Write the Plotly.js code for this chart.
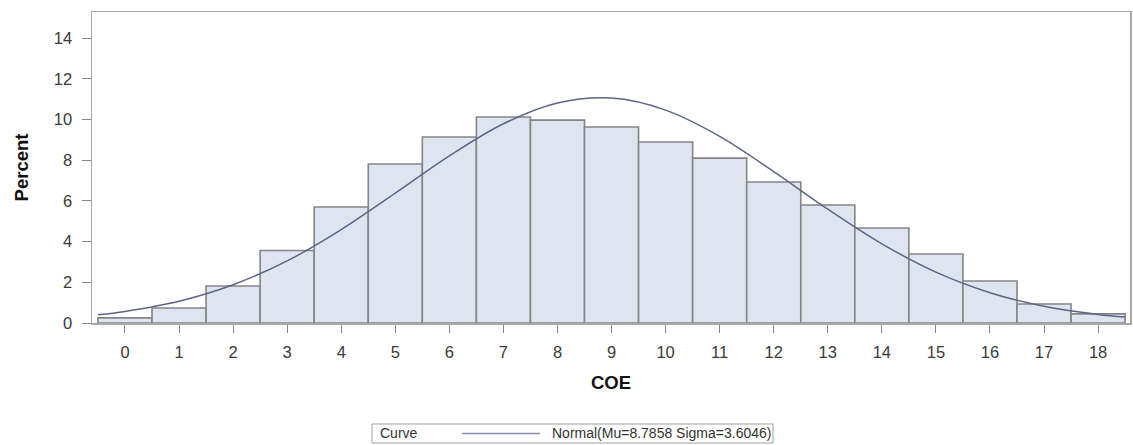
<!DOCTYPE html>
<html>
<head>
<meta charset="utf-8">
<script src="https://cdn.plot.ly/plotly-3.0.1.min.js"></script>
<style>html,body{margin:0;padding:0;background:#fff;}#chart{width:1133px;height:445px;}</style>
</head>
<body>
<div id="chart"></div>
<script>
// Histogram bins (COE) and percent heights
const coeBins = [0,1,2,3,4,5,6,7,8,9,10,11,12,13,14,15,16,17,18];
const percentValues = [0.25,0.74,1.82,3.56,5.70,7.81,9.14,10.12,9.97,9.63,8.89,8.10,6.93,5.80,4.67,3.39,2.06,0.93,0.45];

// Fitted normal curve
const curveX = [-0.5,0,1,2,3,4,5,6,7,8,9,10,11,12,13,14,15,16,17,18,18.5];
const curveY = [0.40,0.57,1.07,1.88,3.05,4.59,6.38,8.21,9.79,10.81,11.05,10.46,9.17,7.44,5.59,3.89,2.50,1.49,0.82,0.42,0.29];

const yTicks = [0,2,4,6,8,10,12,14];
const legendHeader = "Curve";
const legendLabel = "Normal(Mu=8.7858 Sigma=3.6046)";

const W = 1133, H = 445;
const M = {l:92, r:3, t:12, b:122};
const pw = W - M.l - M.r, ph = H - M.t - M.b;
const px = x => (x - M.l) / pw;
const py = y => (H - M.b - y) / ph;

const font = "Liberation Sans, Arial, sans-serif";

const traces = [
  {
    type: 'bar',
    x: coeBins,
    y: percentValues,
    width: 1,
    marker: {color: '#dfe5f0', line: {color: '#858585', width: 1.6}},
    showlegend: false,
    hoverinfo: 'x+y'
  },
  {
    type: 'scatter',
    mode: 'lines',
    x: curveX,
    y: curveY,
    line: {color: '#5d6486', width: 1.5, shape: 'spline', smoothing: 1},
    showlegend: false
  }
];

const layout = {
  width: W, height: H,
  margin: M,
  paper_bgcolor: '#ffffff',
  plot_bgcolor: '#ffffff',
  font: {family: font, color: '#333', size: 15},
  bargap: 0,
  xaxis: {
    range: [-0.61, 18.59],
    tickmode: 'array',
    tickvals: coeBins,
    ticktext: coeBins.map(String),
    ticks: 'outside', ticklen: 8, tickcolor: '#888', tickwidth: 1,
    ticklabelstandoff: 6,
    showline: true, linecolor: '#a8a8a8', linewidth: 1.5, mirror: true,
    showgrid: false, zeroline: false,
    tickfont: {size: 16.5, color: '#3a3a3a'},
    title: {text: '<b>COE</b>', font: {size: 18.5, color: '#111'}, standoff: 16}
  },
  yaxis: {
    range: [0, 15.28],
    tickmode: 'array',
    tickvals: yTicks,
    ticks: 'outside', ticklen: 9, tickcolor: '#888', tickwidth: 1,
    ticklabelstandoff: 6,
    showline: true, linecolor: '#a8a8a8', linewidth: 1.5, mirror: true,
    showgrid: false, zeroline: false,
    tickfont: {size: 16.5, color: '#3a3a3a'},
    title: {text: '<b>Percent</b>', font: {size: 18.5, color: '#111'}, standoff: 20}
  },
  shapes: [
    {type: 'rect', xref: 'paper', yref: 'paper',
     x0: px(372), x1: px(773), y0: py(424), y1: py(443),
     line: {color: '#a0a0a0', width: 1}, fillcolor: 'rgba(0,0,0,0)'},
    {type: 'line', xref: 'paper', yref: 'paper',
     x0: px(462), x1: px(540), y0: py(433.5), y1: py(433.5),
     line: {color: '#8a8fab', width: 1.5}}
  ],
  annotations: [
    {xref: 'paper', yref: 'paper', x: px(378), y: py(433.5), xanchor: 'left', yanchor: 'middle',
     text: legendHeader, showarrow: false, font: {size: 14, color: '#333'}},
    {xref: 'paper', yref: 'paper', x: px(550), y: py(433.5), xanchor: 'left', yanchor: 'middle',
     text: legendLabel, showarrow: false, font: {size: 14, color: '#333'}}
  ]
};

Plotly.newPlot('chart', traces, layout, {displayModeBar: false, staticPlot: true});
</script>
</body>
</html>
